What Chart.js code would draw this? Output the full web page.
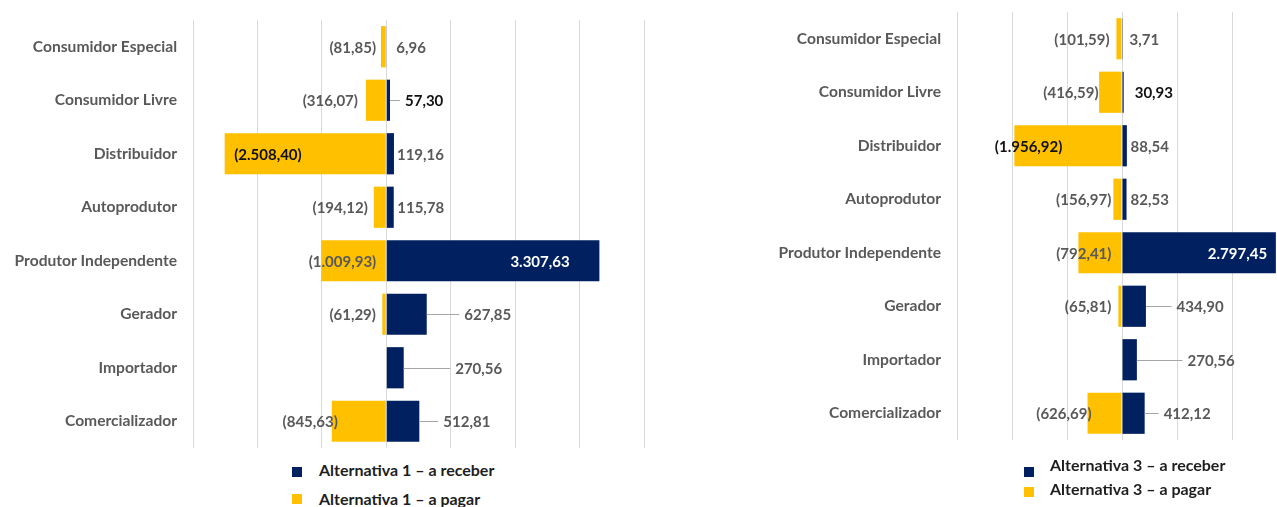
<!DOCTYPE html>
<html>
<head>
<meta charset="utf-8">
<script src="https://cdn.jsdelivr.net/npm/chart.js@4.4.1/dist/chart.umd.min.js"></script>
<style>
  html, body { margin: 0; padding: 0; background: #fff; width: 1277px; height: 507px; overflow: hidden; position: relative; }
  canvas { position: absolute; top: 0; }
  #c1 { left: 0; }
  #c3 { left: 660px; }
  .lg { position: absolute; font: bold 16px Lato, sans-serif; color: #1e1e1e; white-space: nowrap; line-height: 18px; }
  .sq { position: absolute; width: 10px; height: 10px; }
</style>
</head>
<body>
<canvas id="c1" width="650" height="460"></canvas>
<canvas id="c3" width="690" height="460"></canvas>

<div class="sq" style="left:292px;top:467px;background:#002060"></div>
<div class="lg" style="left:319px;top:461px">Alternativa 1 – a receber</div>
<div class="sq" style="left:292px;top:494px;background:#FFC000"></div>
<div class="lg" style="left:319px;top:490px">Alternativa 1 – a pagar</div>

<div class="sq" style="left:1024px;top:467px;background:#002060"></div>
<div class="lg" style="left:1050px;top:456px">Alternativa 3 – a receber</div>
<div class="sq" style="left:1024px;top:487px;background:#FFC000"></div>
<div class="lg" style="left:1050px;top:480px">Alternativa 3 – a pagar</div>

<script>
const categories = ['Consumidor Especial', 'Consumidor Livre', 'Distribuidor', 'Autoprodutor',
  'Produtor Independente', 'Gerador', 'Importador', 'Comercializador'];

const alt1Receber = [6.96, 57.30, 119.16, 115.78, 3307.63, 627.85, 270.56, 512.81];
const alt1Pagar = [-81.85, -316.07, -2508.40, -194.12, -1009.93, -61.29, null, -845.63];

const alt3Receber = [3.71, 30.93, 88.54, 82.53, 2797.45, 434.90, 270.56, 412.12];
const alt3Pagar = [-101.59, -416.59, -1956.92, -156.97, -792.41, -65.81, null, -626.69];

const BLUE = '#002060';
const YELLOW = '#FFC000';
const GRAY = '#595959';
const BLACK = '#111111';
const WHITE = '#ffffff';

// pt-BR number format, negatives in parentheses
function fmt(v) {
  const parts = Math.abs(v).toFixed(2).split('.');
  const int = parts[0].replace(/\B(?=(\d{3})+(?!\d))/g, '.');
  const s = int + ',' + parts[1];
  return v < 0 ? '(' + s + ')' : s;
}

// labels moved by hand in the original, nudged in px from the default spot
const tweaks1 = [
  { dx: [5.5, 11, -1, -0.5, -93, 33.5, 47.5, 20],
    leader: [false, true, false, false, false, true, true, true],
    color: [GRAY, BLACK, GRAY, GRAY, WHITE, GRAY, GRAY, GRAY] },
  { dx: [0, -3, 82, -1, 60, -1.4, 0, 11],
    color: [GRAY, GRAY, BLACK, GRAY, GRAY, GRAY, GRAY, GRAY] }
];
const tweaks3 = [
  { dx: [3.4, 7, -0.3, 0, -72, 26.7, 46.7, 15],
    leader: [false, false, false, false, false, true, true, true],
    color: [GRAY, BLACK, GRAY, GRAY, WHITE, GRAY, GRAY, GRAY] },
  { dx: [-1.8, 4.5, 53, 3, 38, -2, 0, 9],
    color: [GRAY, GRAY, BLACK, GRAY, GRAY, GRAY, GRAY, GRAY] }
];

const valueLabels = {
  id: 'valueLabels',
  afterDatasetsDraw(chart, args, opts) {
    const ctx = chart.ctx;
    ctx.save();
    ctx.font = 'bold 15px Lato';
    ctx.textBaseline = 'middle';
    ctx.textAlign = 'left';
    chart.data.datasets.forEach((ds, di) => {
      const meta = chart.getDatasetMeta(di);
      const tw = opts.tweaks[di];
      meta.data.forEach((bar, i) => {
        const v = ds.data[i];
        if (v == null) return;
        const txt = fmt(v);
        const w = ctx.measureText(txt).width;
        let left = v >= 0 ? bar.x + 4 + tw.dx[i] : bar.x - 5 - w + tw.dx[i];
        if (tw.leader && tw.leader[i]) {
          ctx.strokeStyle = '#a6a6a6';
          ctx.lineWidth = 1;
          ctx.beginPath();
          ctx.moveTo(bar.x, Math.round(bar.y) + 0.5);
          ctx.lineTo(left - 5, Math.round(bar.y) + 0.5);
          ctx.stroke();
        }
        ctx.fillStyle = tw.color[i];
        ctx.fillText(txt, left, bar.y + 1);
      });
    });
    ctx.restore();
  }
};

function makeChart(id, receber, pagar, tweaks, axisWidth, padding) {
  return new Chart(document.getElementById(id), {
    type: 'bar',
    data: {
      labels: categories,
      datasets: [
        { label: 'a receber', data: receber, backgroundColor: BLUE },
        { label: 'a pagar', data: pagar, backgroundColor: YELLOW }
      ]
    },
    options: {
      indexAxis: 'y',
      responsive: false,
      animation: false,
      events: [],
      barPercentage: 0.77,
      categoryPercentage: 1,
      layout: { padding },
      plugins: {
        legend: { display: false },
        tooltip: { enabled: false },
        valueLabels: { tweaks }
      },
      scales: {
        x: {
          stacked: true,
          min: -3000,
          max: 4000,
          ticks: { display: false, stepSize: 1000 },
          grid: { color: '#d9d9d9', drawTicks: false },
          border: { display: false },
          afterFit(s) { s.height = 0; }
        },
        y: {
          stacked: true,
          grid: { display: false, drawTicks: false },
          border: { display: false },
          ticks: { color: GRAY, padding: 16, font: { family: 'Lato', weight: 'bold', size: 15.6 } },
          afterFit(s) {
            s.width = axisWidth;
            s.paddingTop = 0;
            s.paddingBottom = 0;
          }
        }
      }
    },
    plugins: [valueLabels]
  });
}

makeChart('c1', alt1Receber, alt1Pagar, tweaks1, 193, { left: 0, right: 6, top: 20, bottom: 12 });
makeChart('c3', alt3Receber, alt3Pagar, tweaks3, 297, { left: 0, right: 8, top: 12, bottom: 20 });
</script>
</body>
</html>
